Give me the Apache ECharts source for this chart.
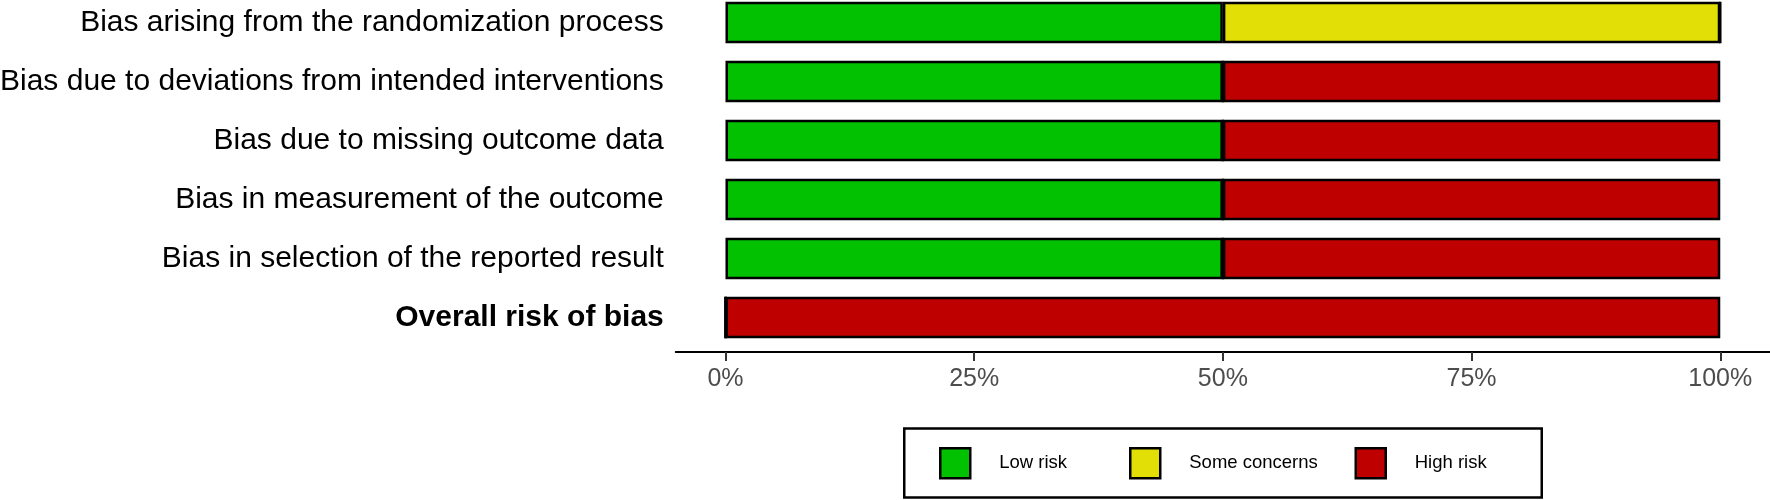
<!DOCTYPE html>
<html><head><meta charset="utf-8">
<script src="https://cdn.jsdelivr.net/npm/echarts@6/dist/echarts.min.js"></script>
<style>html,body{margin:0;padding:0;background:#fff}#c{width:1770px;height:500px}</style>
</head><body><div id="c"></div>
<script>
const categories = [
  'Bias arising from the randomization process',
  'Bias due to deviations from intended interventions',
  'Bias due to missing outcome data',
  'Bias in measurement of the outcome',
  'Bias in selection of the reported result',
  'Overall risk of bias'
];
const lowRisk      = [50, 50, 50, 50, 50, 0];
const someConcerns = [50, 0, 0, 0, 0, 0];
const highRisk     = [0, 50, 50, 50, 50, 100];
const tickValues = [0, 25, 50, 75, 100];
const legendNames = ['Low risk', 'Some concerns', 'High risk'];
const colors = ['#02C100', '#E2DF07', '#BF0000'];

const FONT = "'Liberation Sans', Arial, Helvetica, sans-serif";
const seriesData = [lowRisk, someConcerns, highRisk];
const legendLefts = [939, 1129, 1354.5];

const chart = echarts.init(document.getElementById('c'), null, {renderer: 'canvas'});
chart.setOption({
  animation: false,
  backgroundColor: '#fff',
  textStyle: {fontFamily: FONT},
  grid: {left: 675.75, right: 0, top: -7, height: 354, containLabel: false, outerBoundsMode: 'none'},
  xAxis: {
    type: 'value', min: -5, max: 105, offset: 5,
    splitLine: {show: false},
    axisLine: {show: true, lineStyle: {color: '#000', width: 2}},
    axisTick: {show: true, customValues: tickValues, length: 9, lineStyle: {color: '#333', width: 2}},
    axisLabel: {customValues: tickValues, formatter: v => v + '%', color: '#4D4D4D', fontSize: 25, margin: 15, fontFamily: FONT}
  },
  yAxis: {
    type: 'category', inverse: true, data: categories,
    axisLine: {show: false}, axisTick: {show: false}, splitLine: {show: false},
    axisLabel: {
      color: '#000', fontSize: 30, margin: 12, fontFamily: FONT,
      formatter: (v, i) => i === categories.length - 1 ? '{b|' + v + '}' : v,
      rich: {b: {fontWeight: 'bold', fontSize: 30, color: '#000', fontFamily: FONT}}
    }
  },
  legend: legendNames.map((n, i) => ({
    data: [n], left: legendLefts[i], top: 447, padding: 0,
    itemWidth: 30, itemHeight: 30, icon: 'rect', selectedMode: false,
    itemStyle: {borderColor: '#000', borderWidth: 2.5},
    textStyle: {fontSize: 18.5, color: '#000', fontFamily: FONT, padding: [0, 0, 0, 24]}
  })),
  graphic: [{
    type: 'rect', z: -1, silent: true,
    shape: {x: 904.25, y: 428.5, width: 637.5, height: 69},
    style: {fill: '#fff', stroke: '#000', lineWidth: 2.5}
  }],
  series: legendNames.map((n, i) => ({
    name: n, type: 'bar', stack: 'total', data: seriesData[i], barWidth: 41.5,
    itemStyle: {color: colors[i], borderColor: '#000', borderWidth: 2.5},
    emphasis: {disabled: true}
  }))
});
</script></body></html>
